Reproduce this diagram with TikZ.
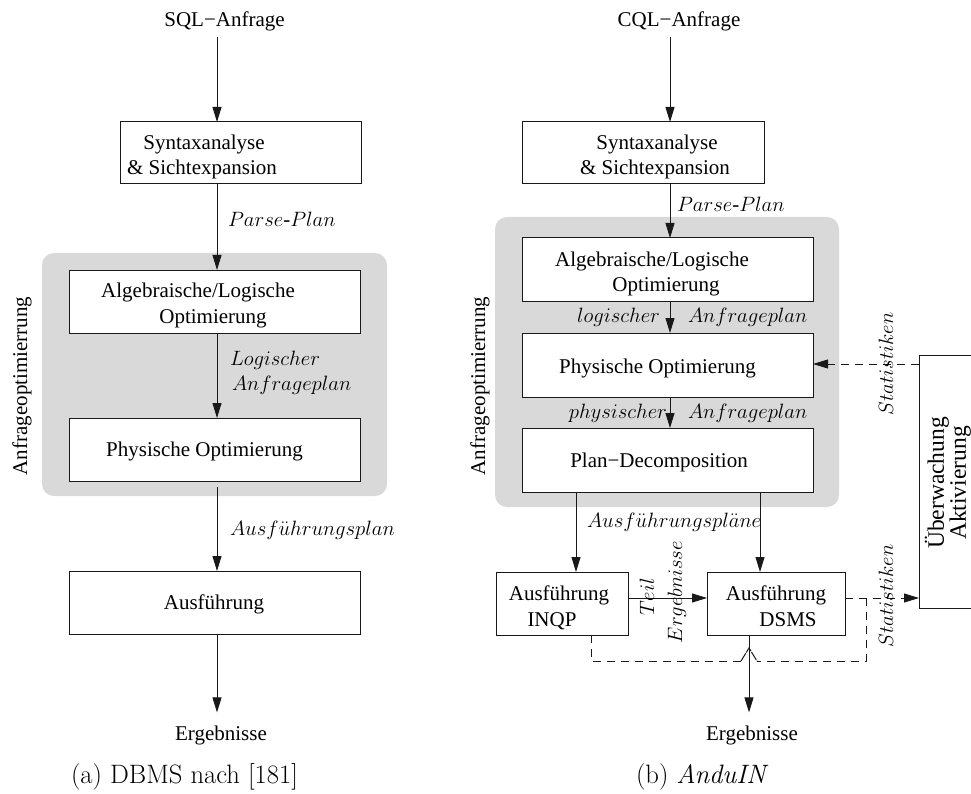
\documentclass[tikz,border=0pt]{standalone}
\usepackage{fontspec}
\setmainfont{Liberation Serif}
\newfontfamily\capfont{Latin Modern Roman}
\usetikzlibrary{arrows.meta}

\definecolor{optgray}{RGB}{217,217,217}
\definecolor{linecol}{RGB}{25,25,25}
\newcommand\figfont{\fontsize{21}{25}\selectfont}
\newcommand\capsize{\fontsize{26.6}{30}\selectfont}

\begin{document}
\begin{tikzpicture}[x=1pt,y=-1pt,
  every node/.style={inner sep=0pt, outer sep=0pt},
  box/.style={draw=linecol, line width=1pt, fill=white},
  optarea/.style={fill=optgray, rounded corners=12pt},
  bt/.style={anchor=base, font=\figfont},
  lblw/.style={anchor=base west, font=\figfont},
  lble/.style={anchor=base east, font=\figfont},
  vert/.style={rotate=90, font=\figfont},
  flow/.style={draw=linecol, line width=1pt, -{Triangle[length=15pt,width=9pt]}},
  dline/.style={draw=linecol, line width=1pt, dash pattern=on 8pt off 6pt},
  dflow/.style={flow, dash pattern=on 8pt off 6pt},
  captxt/.style={anchor=base west, font=\capfont\capsize}
]
\useasboundingbox (0,0) rectangle (971,794);

% ---------------- (a) classic DBMS ----------------
\coordinate (axL) at (217,0);
\node[optarea, minimum width=345, minimum height=243] (opt1) at (214.5,374.5) {};
\node[vert] (opt1t) at (22,386) {Anfrageoptimierrung};

\node[bt] (q1) at (224.5,27) {SQL−Anfrage};
\node[box, minimum width=241, minimum height=62] (syn1) at (240.5,153) {};
\node[bt] (syn1a) at (204,150) {Syntaxanalyse};
\node[bt] (syn1b) at (202,175) {\& Sichtexpansion};

\node[box, minimum width=291, minimum height=63] (alg1) at (214.5,301.5) {};
\node[bt] (alg1a) at (198,297) {Algebraische/Logische};
\node[bt] (alg1b) at (213,323) {Optimierung};

\node[box, minimum width=291, minimum height=63] (phy1) at (214.5,449.5) {};
\node[bt] (phy1a) at (204.5,456) {Physische Optimierung};

\node[box, minimum width=291, minimum height=63] (aus1) at (214.5,602.5) {};
\node[bt] (aus1a) at (214,609) {Ausführung};

\node[bt] (res1) at (221,740) {Ergebnisse};

\draw[flow, shorten <=5pt] (q1.south -| axL) -- (syn1.north -| axL);
\draw[flow] (syn1.south -| axL) -- (alg1.north -| axL);
\draw[flow] (alg1.south -| axL) -- (phy1.north -| axL);
\draw[flow, shorten <=6pt] (phy1.south -| axL) -- (aus1.north -| axL);
\draw[flow, shorten >=13pt] (aus1.south -| axL) -- (res1.north -| axL);

\node[lblw] (pp1) at (228,227) {$Parse$-$Plan$};
\node[lblw] (lp1a) at (230,365) {$Logischer$};
\node[lblw] (lp1b) at (232,390) {$Anfrageplan$};
\node[lblw] (ap1) at (230,535) {$Ausf\ddot{u}hrungsplan$};

\node[captxt] (cap1) at (71,783) {(a) DBMS nach [181]};

% ---------------- (b) AnduIN ----------------
\coordinate (axR) at (670,0);
\coordinate (axI) at (576,0);
\coordinate (axD) at (760,0);
\coordinate (axE) at (749,0);
\coordinate (yres) at (0,598);
\coordinate (ystat) at (0,364);

\node[optarea, minimum width=344, minimum height=290] (opt2) at (667,362) {};
\node[vert] (opt2t) at (480,386) {Anfrageoptimierrung};

\node[bt] (q2) at (679,27) {CQL−Anfrage};
\node[box, minimum width=242, minimum height=62] (syn2) at (643,153) {};
\node[bt] (syn2a) at (657,150) {Syntaxanalyse};
\node[bt] (syn2b) at (655,175) {\& Sichtexpansion};

\node[box, minimum width=291, minimum height=63] (alg2) at (667.5,269.5) {};
\node[bt] (alg2a) at (652,266) {Algebraische/Logische};
\node[bt] (alg2b) at (666,291) {Optimierung};

\node[box, minimum width=291, minimum height=64] (phy2) at (667.5,365) {};
\node[bt] (phy2a) at (657.5,373) {Physische Optimierung};

\node[box, minimum width=291, minimum height=64] (plan2) at (667.5,460) {};
\node[bt] (plan2a) at (659,467) {Plan−Decomposition};

\node[box, minimum width=132, minimum height=63] (inqp) at (562,603.5) {};
\node[bt] (inqpa) at (559,600) {Ausführung};
\node[bt] (inqpb) at (552,626) {INQP};

\node[box, minimum width=138, minimum height=63] (dsms) at (776,603.5) {};
\node[bt] (dsmsa) at (776,600) {Ausführung};
\node[bt] (dsmsb) at (788,626) {DSMS};

\node[box, minimum width=58, minimum height=253] (ueb) at (948,481.5) {};
\node[rotate=90, align=center, font=\fontsize{23.5}{22}\selectfont] (uebt) at (948,483) {Überwachung\\Aktivierung};

\node[bt] (res2) at (752,740) {Ergebnisse};

\draw[flow, shorten <=5pt] (q2.south -| axR) -- (syn2.north -| axR);
\draw[flow] (syn2.south -| axR) -- (alg2.north -| axR);
\draw[flow] (alg2.south -| axR) -- (phy2.north -| axR);
\draw[flow] (phy2.south -| axR) -- (plan2.north -| axR);
\draw[flow] (plan2.south -| axI) -- (inqp.north -| axI);
\draw[flow] (plan2.south -| axD) -- (dsms.north -| axD);
\draw[flow] (inqp.east |- yres) -- (dsms.west |- yres);
\draw[flow, shorten >=13pt] (dsms.south -| axE) -- (res2.north -| axE);

% statistics feedback
\draw[dflow] (ueb.west |- ystat) -- (phy2.east |- ystat);
\draw[dflow] (dsms.east |- yres) -- (ueb.west |- yres);

% partial results flowing back below the executors
\coordinate (fbL) at (591,661);
\coordinate (fbR) at (866,661);
\coordinate (fbtip) at (749,648);
\coordinate (fbLend) at (741,661);
\coordinate (fbRend) at (757,661);
\draw[dline] (inqp.south -| fbL) -- (fbL) -- (fbLend);
\draw[dline] (fbR |- yres) -- (fbR) -- (fbRend);
\draw[dline, dash pattern=on 9pt off 1pt] (fbLend) -- (fbtip) -- (fbRend);

\node[lblw] (pp2) at (677,212) {$Parse$-$Plan$};
\node[lble] (lp2a) at (660,322) {$logischer$};
\node[lblw] (lp2b) at (688,322) {$Anfrageplan$};
\node[lble] (ph2a) at (667,418) {$physischer$};
\node[lblw] (ph2b) at (688,418) {$Anfrageplan$};
\node[lblw] (ap2) at (587,527) {$Ausf\ddot{u}hrungspl\ddot{a}ne$};
\node[vert] (teil) at (647,597) {$Teil$};
\node[vert] (terg) at (677,592) {$Ergebnisse$};
\node[vert] (stat1) at (886,364) {$Statistiken$};
\node[vert] (stat2) at (886,596) {$Statistiken$};

\node[captxt] (cap2) at (636,783) {(b) {\itshape AnduIN}};
\end{tikzpicture}
\end{document}
